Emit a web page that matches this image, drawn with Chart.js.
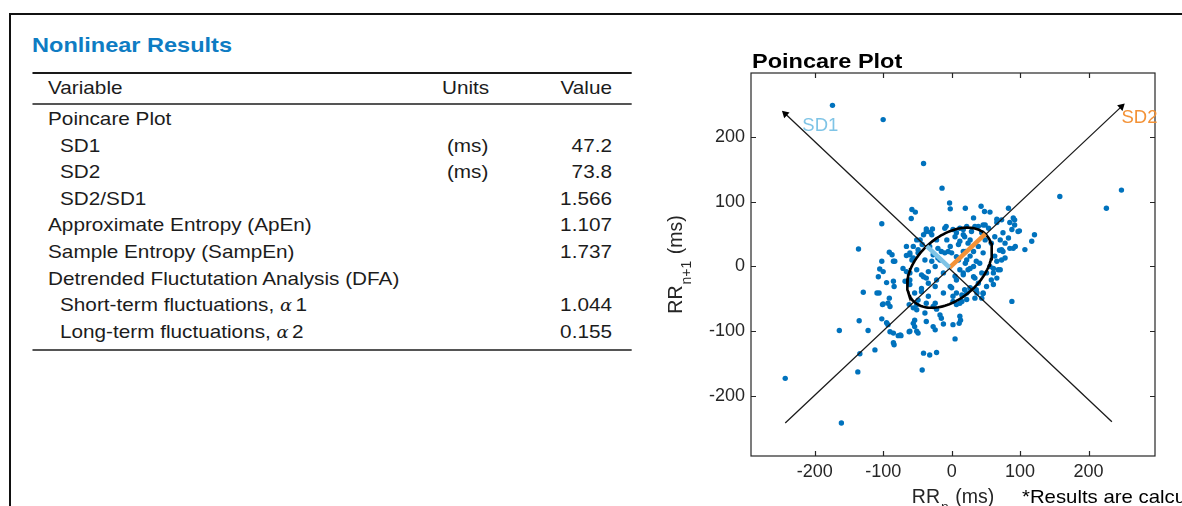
<!DOCTYPE html>
<html>
<head>
<meta charset="utf-8">
<script src="https://cdn.jsdelivr.net/npm/chart.js@4"></script>
<style>
  html, body { margin: 0; padding: 0; background: #fff; }
  body { width: 1182px; height: 506px; position: relative; overflow: hidden;
         font-family: "Liberation Sans", Arial, sans-serif; color: #1c1c1c; }
  .frame-top { position: absolute; left: 9px; top: 12.5px; width: 1173px; height: 2px; background: #111; }
  .frame-left { position: absolute; left: 9px; top: 12.5px; width: 2px; height: 494px; background: #111; }
  .panel { position: absolute; left: 0; top: 0; width: 600px; height: 400px;
           transform: scaleX(1.12); transform-origin: 0 0; }
  .panel h2 { position: absolute; left: 28.6px; top: 33px; margin: 0; font-size: 21px; line-height: 24px;
              font-weight: bold; color: #0e7cc3; white-space: nowrap; }
  .rule { position: absolute; left: 28.6px; width: 535.7px; }
  .cell { position: absolute; font-size: 18.5px; line-height: 26.6px; white-space: nowrap; }
  .cell.val { text-align: right; width: 80px; left: 466.4px; }
  .alpha { font-family: "DejaVu Serif", serif; font-style: italic; font-size: 16px; margin-right: 3px; }
  #chartBox { position: absolute; left: 660px; top: 40px; width: 522px; height: 466px; }
  .ptitle { position: absolute; left: 752px; top: 49px; font-size: 21px; line-height: 24px; font-weight: bold;
            color: #000; white-space: nowrap; transform: scaleX(1.12); transform-origin: 0 0; }
  .note { position: absolute; left: 1022px; top: 487px; font-size: 18.5px; line-height: 20px; color: #000;
          white-space: nowrap; transform: scaleX(1.1); transform-origin: 0 0; }
</style>
</head>
<body>
<div class="frame-top"></div>
<div class="frame-left"></div>

<div class="panel" id="panel">
  <h2>Nonlinear Results</h2>
  <div class="rule" style="top:72px;height:1.5px;background:#1a1a1a"></div>
  <div class="rule" style="top:103px;height:2px;background:#555"></div>
  <div class="rule" style="top:349px;height:2px;background:#555"></div>
</div>

<div id="chartBox"><canvas id="poincare" width="522" height="466"></canvas></div>
<div class="ptitle">Poincare Plot</div>
<div class="note">*Results are calculated from the selected samples</div>

<script>
// Table rows: label, indent, units, value
const rowLabels = ['Poincare Plot', 'SD1', 'SD2', 'SD2/SD1', 'Approximate Entropy (ApEn)', 'Sample Entropy (SampEn)',
                   'Detrended Fluctutation Analysis (DFA)', 'Short-term fluctuations, α1', 'Long-term fluctuations, α2'];
const rowIndent = [0, 1, 1, 1, 0, 0, 0, 1, 1];
const rowUnits = ['', '(ms)', '(ms)', '', '', '', '', '', ''];
const rowValues = ['', '47.2', '73.8', '1.566', '1.107', '1.737', '', '1.044', '0.155'];

// Poincare data (ms): RR_n vs RR_n+1 (mean removed)
const rrN = [
  -174,-100,-41,-14,158,248,226,-243,-161,-164,-136,-137,-134,-112,-135,-122,-129,-102,-43,-41,
  -32,-22,5,88,121,117,107,99,90,83,43,20,-3,-2,-58,-53,-59,48,56,32,66,73,85,92,
  -91,-87,-102,-85,-105,-107,-95,-85,-84,-106,-91,-93,-101,-90,-102,-93,-90,-85,-78,-74,
  -84,-62,-54,-51,-49,-54,-39,-37,-27,-24,-12,-17,-15,2,11,13,12,-22,-27,-37,-49,-51,-56,-62,
  -66,-61,-56,-49,-43,-37,-29,-22,-10,2,12,22,29,39,46,54,63,58,70,73,
  68,61,61,51,46,32,32,27,20,12,5,-2,-10,-17,-24,-34,-41,-34,-44,-24,
  -12,-2,7,17,22,15,7,2,27,39,44,41,46,39,27,17,0,10,20,24,
  -12,-22,-29,-39,-32,-20,-7,-27,-51,-61,-68,-61,-54,-34,-24,-44,
  78,83,88,75,71,73,85,93,78,71,66,58,51,56,63,49,44,34,37,44,-46,-56,-66,
  -8,-28,-37,-41,-51,-31,-15,-5,-20,-71,-66,-61,-58,-49,-44,-37,-61,92,97,90,
  75,66,61,34,49,66,7,17,19,24,10,32,17,7,22,36,27,12,17,5,
  0,7,15,19,27,36,46,34,22,12,2,-109,-100,-51,-56,-61,-75,-95,-85,-100,-83
];
const rrN1 = [
  249,227,159,121,108,118,90,-173,-242,-99,27,-163,-135,-129,-84,-99,-40,66,-160,-134,
  -137,-133,-112,-54,49,39,26,55,75,90,93,90,98,89,88,84,74,85,84,75,68,72,68,72,
  22,18,8,8,-4,-16,-25,-23,-31,-41,-49,-57,-59,-62,-81,-90,-101,-103,-107,-107,
  -121,-101,-93,-100,-103,-83,-72,-85,-93,-98,-89,-75,-80,-90,-88,-83,-77,-66,-62,-57,-52,-59,-64,-59,
  17,18,13,21,34,54,49,41,59,57,59,62,54,62,64,59,46,36,25,10,
  -5,-10,-28,-31,-41,-16,0,16,23,39,46,31,21,10,0,-8,-16,-26,-34,-31,
  -41,-31,-21,-10,-41,-54,-59,-46,-34,-26,-10,5,21,31,41,49,21,10,5,-5,
  -10,-21,8,10,31,28,41,18,-5,-10,-23,-28,-41,-46,-57,-39,
  36,44,57,52,41,26,28,31,13,-5,-18,-21,-10,0,16,41,52,62,-41,-49,41,31,31,
  62,58,58,49,41,53,23,23,13,-3,-8,21,10,26,-13,-18,-21,64,54,28,
  23,8,-3,-18,64,73,52,57,46,36,34,23,23,15,10,8,-3,-5,-13,-15,
  -33,-41,-44,-36,-33,-36,-42,-49,-51,-57,-54,-41,-58,-67,-88,-100,-106,-87,-118,-8,8
];

const sd1 = 47.2;
const sd2 = 73.8;
const ellipseCenter = [-3, -2];

// arrow axes (start, end)
const sd2AxisX = [-243, 248];
const sd2AxisY = [-242, 247];
const sd1AxisX = [234, -243];
const sd1AxisY = [-240, 236];

const xTicks = [-200, -100, 0, 100, 200];
const yTicks = [-200, -100, 0, 100, 200];

// build the table
const panel = document.getElementById('panel');
function addCell(text, left, center, cls) {
    const d = document.createElement('div');
    d.className = 'cell' + (cls ? ' ' + cls : '');
    d.style.top = (center - 13.1) + 'px';
    if (left !== null) d.style.left = left + 'px';
    d.innerHTML = text;
    panel.appendChild(d);
}
addCell('Variable', 42.9, 88);
addCell('Units', 394.6, 88);
addCell('Value', null, 88, 'val');
rowLabels.forEach(function (label, i) {
    const c = 119 + i * 26.6;
    const html = label.replace(/α(\d)/, '<span class="alpha">α</span>$1');
    addCell(html, rowIndent[i] ? 53.6 : 42.9, c);
    if (rowUnits[i]) addCell(rowUnits[i], 399, c);
    if (rowValues[i]) addCell(rowValues[i], null, c, 'val');
});

// ellipse outline from SD1 / SD2
const ellipsePts = [];
for (let k = 0; k <= 120; k++) {
    const t = k / 120 * 2 * Math.PI;
    const u = sd2 * Math.cos(t) / Math.SQRT2;
    const v = sd1 * Math.sin(t) / Math.SQRT2;
    ellipsePts.push({ x: ellipseCenter[0] + u - v, y: ellipseCenter[1] + u + v });
}

const sd1Color = '#7fc4e6';
const sd2Color = '#f39237';
const axisColor = '#262626';
const tickFont = { family: '"Liberation Sans", Arial, sans-serif', size: 18 };

// box, inward ticks, labels and axis titles
const framePlugin = {
    id: 'framePlugin',
    afterDraw(chart) {
        const { ctx, chartArea: a, scales: { x, y } } = chart;
        ctx.save();
        ctx.strokeStyle = axisColor;
        ctx.lineWidth = 1.2;
        ctx.strokeRect(a.left, a.top, a.right - a.left, a.bottom - a.top);
        ctx.beginPath();
        xTicks.forEach(function (v) {
            const px = Math.round(x.getPixelForValue(v)) + 0.5;
            ctx.moveTo(px, a.bottom); ctx.lineTo(px, a.bottom - 5);
            ctx.moveTo(px, a.top); ctx.lineTo(px, a.top + 5);
        });
        yTicks.forEach(function (v) {
            const py = Math.round(y.getPixelForValue(v)) + 0.5;
            ctx.moveTo(a.left, py); ctx.lineTo(a.left + 5, py);
            ctx.moveTo(a.right, py); ctx.lineTo(a.right - 5, py);
        });
        ctx.stroke();

        // SD labels
        ctx.font = '18.5px "Liberation Sans", Arial, sans-serif';
        ctx.textBaseline = 'middle';
        ctx.fillStyle = sd1Color;
        ctx.fillText('SD1', x.getPixelForValue(-218), y.getPixelForValue(217));
        ctx.fillStyle = sd2Color;
        ctx.fillText('SD2', x.getPixelForValue(248), y.getPixelForValue(229));

        // axis titles with subscripts
        ctx.fillStyle = axisColor;
        ctx.textBaseline = 'alphabetic';
        const big = '19.5px "Liberation Sans", Arial, sans-serif';
        const small = '14px "Liberation Sans", Arial, sans-serif';
        function titleParts(sub) {
            ctx.font = big; const w1 = ctx.measureText('RR').width;
            ctx.font = small; const w2 = ctx.measureText(sub).width;
            ctx.font = big; const w3 = ctx.measureText(' (ms)').width;
            return [w1, w2, w3];
        }
        function drawTitle(sub, x0, y0) {
            const w = titleParts(sub);
            ctx.font = big; ctx.fillText('RR', x0, y0);
            ctx.font = small; ctx.fillText(sub, x0 + w[0] + 1, y0 + 9);
            ctx.font = big; ctx.fillText(' (ms)', x0 + w[0] + w[1] + 2, y0);
            return w;
        }
        // x title
        let w = titleParts('n');
        let total = w[0] + w[1] + w[2] + 2;
        drawTitle('n', (a.left + a.right) / 2 - total / 2, a.bottom + 47);
        // y title
        w = titleParts('n+1');
        total = w[0] + w[1] + w[2] + 2;
        ctx.translate(a.left - 69, (a.top + a.bottom) / 2);
        ctx.rotate(-Math.PI / 2);
        drawTitle('n+1', -total / 2, 0);
        ctx.restore();
    }
};

new Chart(document.getElementById('poincare'), {
    type: 'scatter',
    data: {
        datasets: [
            {
                data: sd1AxisX.map(function (v, i) { return { x: v, y: sd1AxisY[i] }; }),
                showLine: true, borderColor: '#1a1a1a', borderWidth: 1.3,
                pointStyle: 'triangle', pointRadius: [0, 4.5], pointRotation: [0, -47],
                pointBackgroundColor: '#000', pointBorderWidth: 0, order: 4
            },
            {
                data: sd2AxisX.map(function (v, i) { return { x: v, y: sd2AxisY[i] }; }),
                showLine: true, borderColor: '#1a1a1a', borderWidth: 1.3,
                pointStyle: 'triangle', pointRadius: [0, 4.5], pointRotation: [0, 47],
                pointBackgroundColor: '#000', pointBorderWidth: 0, order: 4
            },
            {
                data: rrN.map(function (v, i) { return { x: v, y: rrN1[i] }; }),
                backgroundColor: '#0072bd', borderWidth: 0, pointRadius: 2.7, order: 5
            },
            {
                data: ellipsePts, showLine: true, borderColor: '#000', borderWidth: 2.6,
                pointRadius: 0, order: 3
            },
            {
                data: [
                    { x: ellipseCenter[0], y: ellipseCenter[1] },
                    { x: ellipseCenter[0] - sd1 / Math.SQRT2, y: ellipseCenter[1] + sd1 / Math.SQRT2 }
                ],
                showLine: true, borderColor: sd1Color, borderWidth: 4.5, pointRadius: 0, order: 1
            },
            {
                data: [
                    { x: ellipseCenter[0], y: ellipseCenter[1] },
                    { x: ellipseCenter[0] + sd2 / Math.SQRT2, y: ellipseCenter[1] + sd2 / Math.SQRT2 }
                ],
                showLine: true, borderColor: sd2Color, borderWidth: 4.5, pointRadius: 0, order: 1
            }
        ]
    },
    options: {
        responsive: false,
        animation: false,
        events: [],
        layout: { padding: { left: 0, right: 27, top: 33, bottom: 0 } },
        plugins: { legend: { display: false }, tooltip: { enabled: false }, title: { display: false } },
        scales: {
            x: {
                type: 'linear', min: -293, max: 297,
                grid: { display: false, drawTicks: false }, border: { display: false },
                afterBuildTicks: function (s) { s.ticks = xTicks.map(function (v) { return { value: v }; }); },
                afterFit: function (s) { s.height = 50; },
                ticks: { font: tickFont, color: axisColor, padding: 5, maxRotation: 0,
                         callback: function (v) { return String(v); } }
            },
            y: {
                type: 'linear', min: -293, max: 299,
                grid: { display: false, drawTicks: false }, border: { display: false },
                afterBuildTicks: function (s) { s.ticks = yTicks.map(function (v) { return { value: v }; }); },
                afterFit: function (s) { s.width = 91; },
                ticks: { font: tickFont, color: axisColor, padding: 6,
                         callback: function (v) { return String(v); } }
            }
        }
    },
    plugins: [framePlugin]
});
</script>
</body>
</html>
